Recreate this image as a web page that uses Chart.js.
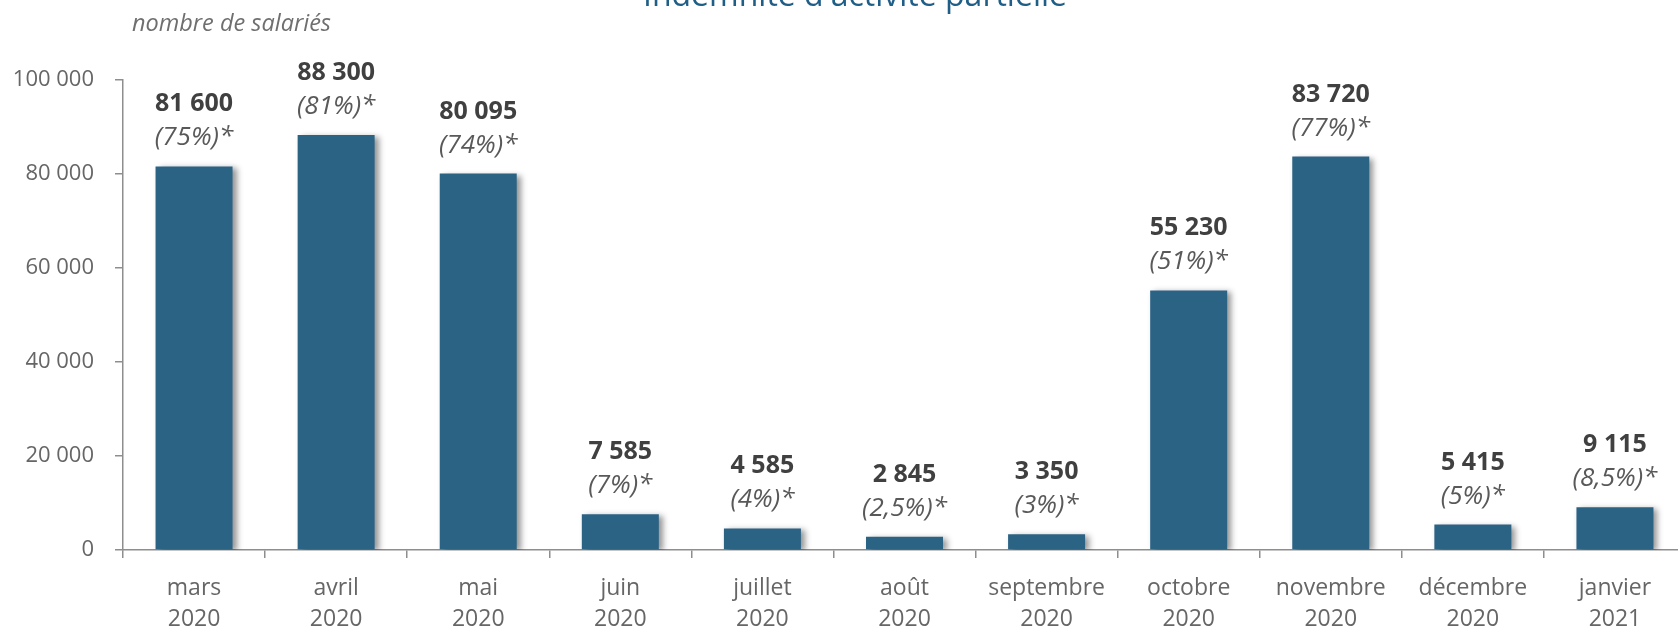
<!DOCTYPE html>
<html lang="fr">
<head>
<meta charset="utf-8">
<script src="https://cdn.jsdelivr.net/npm/chart.js@4.4.1/dist/chart.umd.min.js"></script>
<style>
  html, body { margin: 0; padding: 0; background: #ffffff; overflow: hidden; width: 1678px; height: 629px; }
  #wrap { position: absolute; left: 0; top: 0; width: 1700px; height: 629px; }
  canvas { display: block; }
</style>
</head>
<body>
<div id="wrap"><canvas id="c" width="1700" height="629"></canvas></div>
<script>
// ---- data ----
const months = ['mars', 'avril', 'mai', 'juin', 'juillet', 'août', 'septembre', 'octobre', 'novembre', 'décembre', 'janvier'];
const years = ['2020', '2020', '2020', '2020', '2020', '2020', '2020', '2020', '2020', '2020', '2021'];
const salaries = [81600, 88300, 80095, 7585, 4585, 2845, 3350, 55230, 83720, 5415, 9115];
const shares = [75, 81, 74, 7, 4, 2.5, 3, 51, 77, 5, 8.5];
const yTicks = [0, 20000, 40000, 60000, 80000, 100000];
const chartTitle = "Indemnité d'activité partielle";
const unitLabel = 'nombre de salariés';

const FONT = '"Open Sans", "Noto Sans", "DejaVu Sans", sans-serif';
const fmt = v => String(v).replace(/\B(?=(\d{3})+(?!\d))/g, ' ');
const fmtPct = p => '(' + String(p).replace('.', ',') + '%)*';

const shadowPlugin = {
  id: 'barShadow',
  beforeDatasetsDraw(chart) {
    const ctx = chart.ctx;
    ctx.save();
    ctx.shadowColor = 'rgba(0,0,0,0.42)';
    ctx.shadowBlur = 6;
    ctx.shadowOffsetX = 4;
    ctx.shadowOffsetY = 2;
  },
  afterDatasetsDraw(chart) {
    chart.ctx.restore();
  }
};

const labelsPlugin = {
  id: 'barLabels',
  afterDraw(chart) {
    const ctx = chart.ctx;
    const meta = chart.getDatasetMeta(0);
    ctx.save();
    ctx.textAlign = 'center';
    ctx.textBaseline = 'alphabetic';
    meta.data.forEach((bar, i) => {
      ctx.font = 'bold 25px ' + FONT;
      ctx.fillStyle = '#404040';
      ctx.fillText(fmt(salaries[i]), bar.x, bar.y - 55);
      ctx.font = 'italic 26px ' + FONT;
      ctx.fillStyle = '#595959';
      ctx.fillText(fmtPct(shares[i]), bar.x, bar.y - 21);
    });
    // title (partly cut by top edge, as in the reference)
    ctx.font = '32px ' + FONT;
    ctx.fillStyle = '#1f5e87';
    ctx.textAlign = 'center';
    ctx.fillText(chartTitle, 855, 6);
    // unit label
    ctx.font = 'italic 23.5px ' + FONT;
    ctx.fillStyle = '#6f6f6f';
    ctx.textAlign = 'left';
    ctx.fillText(unitLabel, 132, 31);
    ctx.restore();
  }
};

new Chart(document.getElementById('c'), {
  type: 'bar',
  data: {
    labels: months.map((m, i) => [m, years[i]]),
    datasets: [{
      data: salaries,
      backgroundColor: '#2b6385',
      borderWidth: 0,
      barPercentage: 0.542,
      categoryPercentage: 1.0
    }]
  },
  options: {
    responsive: false,
    animation: false,
    layout: { padding: { top: 80, right: 14, bottom: 0, left: 0 } },
    plugins: {
      legend: { display: false },
      tooltip: { enabled: false },
      title: { display: false }
    },
    scales: {
      x: {
        offset: true,
        grid: { offset: true, drawOnChartArea: false, drawTicks: true, tickLength: 8, color: '#8e8e8e', lineWidth: 1.5 },
        border: { display: true, color: '#8e8e8e', width: 1.5 },
        ticks: { color: '#666666', font: { family: FONT, size: 23, lineHeight: 1.36 }, padding: 15, maxRotation: 0, autoSkip: false },
        afterFit(scale) { scale.height = 79; }
      },
      y: {
        min: 0,
        max: 100000,
        afterBuildTicks(scale) { scale.ticks = yTicks.map(v => ({ value: v })); },
        grid: { drawOnChartArea: false, drawTicks: true, tickLength: 8, color: '#8e8e8e', lineWidth: 1.5 },
        border: { display: true, color: '#8e8e8e', width: 1.5 },
        ticks: { color: '#666666', font: { family: FONT, size: 22 }, padding: 21, callback: v => fmt(v) },
        afterFit(scale) { scale.width = 123; }
      }
    }
  },
  plugins: [shadowPlugin, labelsPlugin]
});
</script>
</body>
</html>
